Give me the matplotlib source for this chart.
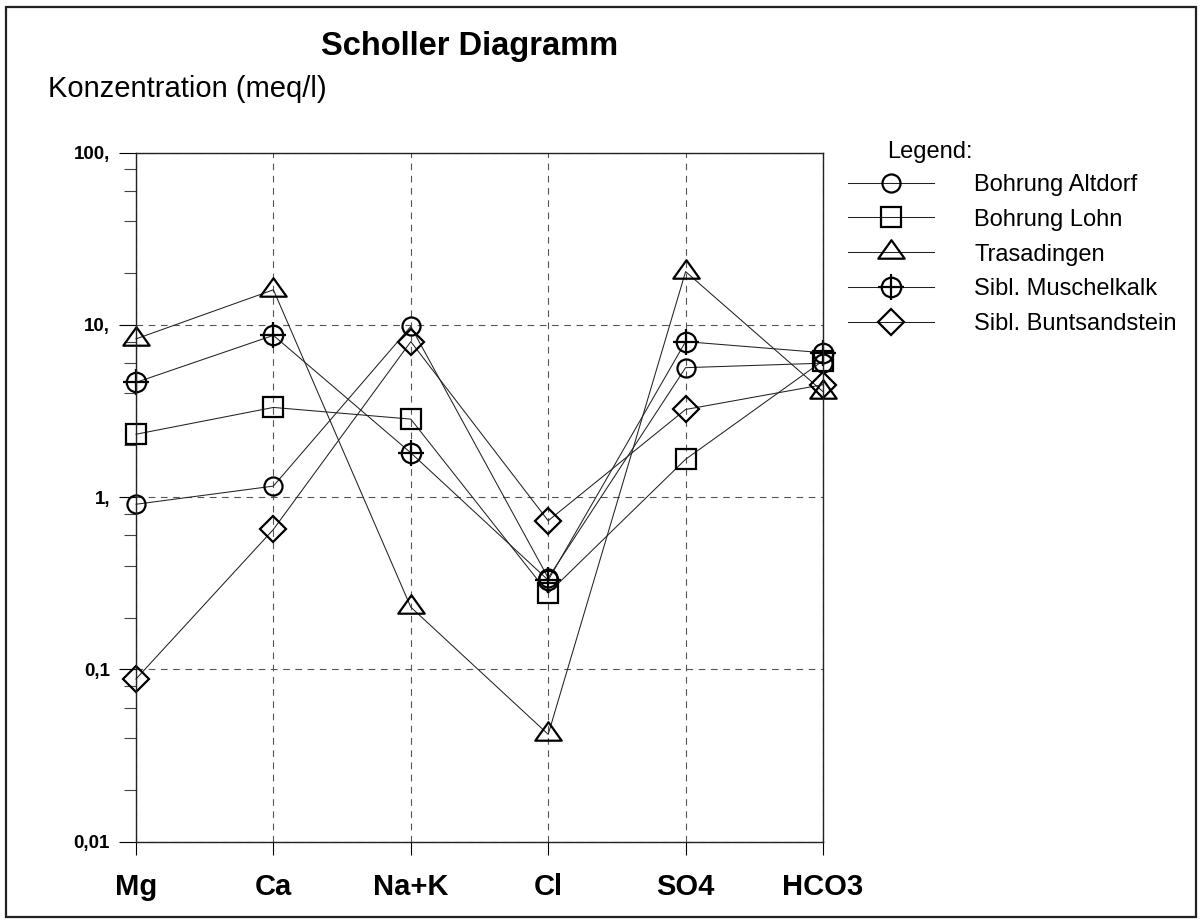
import matplotlib
matplotlib.use("Agg")
from matplotlib import pyplot as plt
from matplotlib.path import Path
from matplotlib.patches import Rectangle
import numpy as np

plt.rcParams['font.family'] = ['Liberation Sans', 'DejaVu Sans']

# ions on the x axis
ions = ['Mg', 'Ca', 'Na+K', 'Cl', 'SO4', 'HCO3']

# concentrations in meq/l
altdorf = [0.91, 1.16, 9.8, 0.34, 5.65, 6.0]
lohn = [2.32, 3.32, 2.84, 0.277, 1.66, 6.2]
trasadingen = [8.3, 16.0, 0.23, 0.042, 20.4, 4.1]
muschelkalk = [4.64, 8.7, 1.81, 0.33, 8.0, 6.9]
buntsandstein = [0.088, 0.65, 8.0, 0.73, 3.23, 4.5]

series_names = ['Bohrung Altdorf', 'Bohrung Lohn', 'Trasadingen',
                'Sibl. Muschelkalk', 'Sibl. Buntsandstein']

y_ticks = [0.01, 0.1, 1, 10, 100]
y_tick_labels = ['0,01', '0,1', '1,', '10,', '100,']

W, H = 1203, 921
fig = plt.figure(figsize=(W / 100, H / 100), dpi=100)
ax = fig.add_axes([136 / W, 1 - 841.7 / H, (823 - 136) / W, (841.7 - 152.7) / H])

# flat triangle marker, centred on its centroid
tri = Path([(0, 0.93), (-1, -0.47), (1, -0.47), (0, 0.93)],
           [Path.MOVETO, Path.LINETO, Path.LINETO, Path.CLOSEPOLY])

x = np.arange(len(ions))
common = dict(color='#222222', lw=0.75, mfc='none', mec='black', mew=1.6, clip_on=False)

h1, = ax.plot(x, altdorf, marker='o', ms=13, **common)
h2, = ax.plot(x, lohn, marker='s', ms=14.5, **common)
h3, = ax.plot(x, trasadingen, marker=tri, ms=19, **common)
h4, = ax.plot(x, muschelkalk, marker='o', ms=14, **common)
h4b, = ax.plot(x, muschelkalk, marker='+', ms=19, ls='none', mec='black', mew=1.6, clip_on=False)
h5, = ax.plot(x, buntsandstein, marker='D', ms=13, **common)

ax.set_yscale('log')
ax.set_ylim(0.01, 100)
ax.set_xlim(0, len(ions) - 1)

ax.set_xticks(x)
ax.set_xticklabels(ions, fontsize=21, fontweight='bold')
ax.set_yticks(y_ticks)
ax.set_yticklabels(y_tick_labels, fontsize=13.5, fontweight='bold')
ax.yaxis.set_minor_locator(matplotlib.ticker.LogLocator(base=10, subs=[2, 4, 6, 8]))
ax.yaxis.set_minor_formatter(matplotlib.ticker.NullFormatter())

ax.tick_params(axis='y', which='major', direction='out', length=12.2, width=0.8, pad=6.5)
ax.tick_params(axis='y', which='minor', direction='out', length=8.6, width=0.8, color='#444444')
ax.tick_params(axis='x', which='major', direction='out', length=9.4, width=0.8, pad=13)

ax.grid(True, which='major', color='#555555', ls=(0, (6, 5)), lw=0.8)
ax.set_axisbelow(True)
for s in ax.spines.values():
    s.set_linewidth(1.0)
    s.set_color('#222222')

# texts
fig.text(470 / W, 1 - 55 / H, 'Scholler Diagramm', fontsize=23.5, fontweight='bold',
         ha='center', va='baseline')
fig.text(48 / W, 1 - 97 / H, 'Konzentration (meq/l)', fontsize=21, ha='left', va='baseline')
fig.text(887 / W, 1 - 152 / H, 'Legend:', fontsize=17, ha='left', va='center')

fig.legend([h1, h2, h3, (h4, h4b), h5], series_names,
           loc='upper left', bbox_to_anchor=(848 / W, 1 - 174 / H),
           frameon=False, borderpad=0, borderaxespad=0, fontsize=17,
           handlelength=3.64, handletextpad=1.7, labelspacing=0.54)

# outer frame
fig.patches.append(Rectangle((6 / W, 1 - 917 / H), (1196 - 6) / W, (917 - 7) / H,
                             transform=fig.transFigure, fill=False, lw=1.6,
                             edgecolor='#222222'))

fig.savefig('out.png', dpi=100)
